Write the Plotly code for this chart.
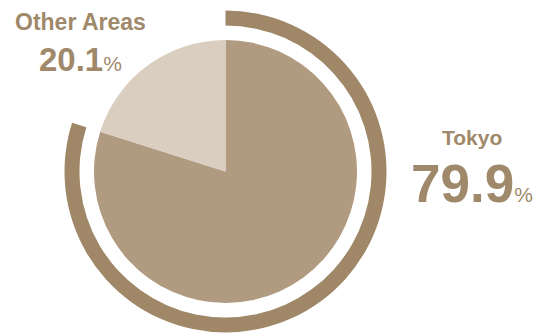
import plotly.graph_objects as go

labels = ["Tokyo", "Other Areas"]
values = [79.9, 20.1]
slice_colors = ["#b09b80", "#dacec1"]
ring_color = "#9f8767"
text_color = "#a0896a"

W, H = 537, 334
cx, cy = 225.5, 171.5
r_pie = 131.5
r_ring_out = 161.0
r_ring_in = 146.0

def dom(r):
    return dict(x=[(cx - r) / W, (cx + r) / W], y=[1 - (cy + r) / H, 1 - (cy - r) / H])

fig = go.Figure()
fig.add_trace(go.Pie(
    labels=labels, values=values, sort=False, direction="clockwise", rotation=0,
    marker=dict(colors=[ring_color, "rgba(0,0,0,0)"], line=dict(width=0)),
    hole=r_ring_in / r_ring_out, textinfo="none", hoverinfo="skip",
    domain=dom(r_ring_out), showlegend=False,
))
fig.add_trace(go.Pie(
    labels=labels, values=values, sort=False, direction="clockwise", rotation=0,
    marker=dict(colors=slice_colors, line=dict(width=0)),
    textinfo="none", domain=dom(r_pie), showlegend=False,
))

font_fam = "Liberation Sans, Arial, sans-serif"

def add_label(name, val, x, y_name, y_val, name_size, val_size, pct_size):
    fig.add_annotation(x=x / W, y=1 - y_name / H, xref="paper", yref="paper",
                       text=f"<b>{name}</b>", showarrow=False, xanchor="center", yanchor="middle",
                       font=dict(family=font_fam, size=name_size, color=text_color))
    fig.add_annotation(x=x / W, y=1 - y_val / H, xref="paper", yref="paper",
                       text=f"<b>{val}</b><span style='font-size:{pct_size}px'>%</span>",
                       showarrow=False, xanchor="center", yanchor="middle",
                       font=dict(family=font_fam, size=val_size, color=text_color))

add_label(labels[0], f"{values[0]:.1f}", 472, 137, 183, 21, 53, 21)
add_label(labels[1], f"{values[1]:.1f}", 80, 22, 59, 23, 33, 21)

fig.update_layout(width=W, height=H, margin=dict(l=0, r=0, t=0, b=0),
                  paper_bgcolor="white", plot_bgcolor="white")
fig.write_html("out.html")
